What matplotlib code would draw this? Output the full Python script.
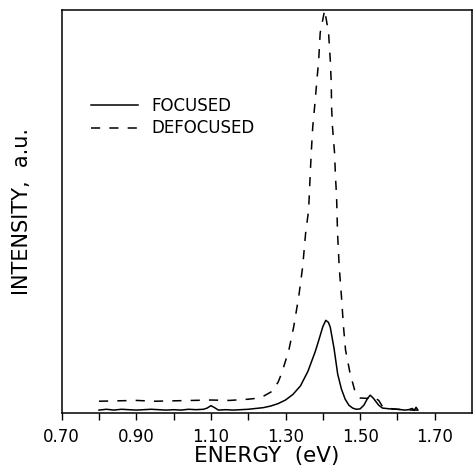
import matplotlib
matplotlib.use("Agg")
import matplotlib.pyplot as plt
from matplotlib.ticker import FixedLocator

plt.rcParams['font.family'] = ['DejaVu Sans']

# Focused spectrum (solid)
focused_energy = [0.80, 0.82, 0.84, 0.86, 0.88, 0.90, 0.92, 0.94, 0.96, 0.98,
                  1.00, 1.02, 1.04, 1.06, 1.08, 1.09, 1.10, 1.11, 1.12, 1.14,
                  1.16, 1.18, 1.20, 1.22, 1.24, 1.26, 1.28, 1.30, 1.32, 1.34,
                  1.36, 1.38, 1.39, 1.40, 1.408, 1.415, 1.42, 1.43, 1.44, 1.45,
                  1.46, 1.47, 1.48, 1.49, 1.50, 1.51, 1.52, 1.527, 1.535, 1.55,
                  1.56, 1.58, 1.60, 1.62, 1.63, 1.64, 1.645, 1.65, 1.655]
focused_intensity = [0.006, 0.008, 0.006, 0.008, 0.007, 0.006, 0.007, 0.008, 0.007, 0.006,
                     0.007, 0.006, 0.008, 0.007, 0.008, 0.011, 0.017, 0.012, 0.006, 0.007,
                     0.006, 0.007, 0.008, 0.010, 0.012, 0.016, 0.022, 0.031, 0.045, 0.066,
                     0.102, 0.152, 0.182, 0.213, 0.229, 0.224, 0.212, 0.160, 0.095, 0.058,
                     0.033, 0.018, 0.011, 0.008, 0.009, 0.018, 0.035, 0.043, 0.036, 0.018,
                     0.011, 0.009, 0.008, 0.006, 0.007, 0.010, 0.005, 0.013, 0.006]

# Defocused spectrum (dashed)
defocused_energy = [0.80, 0.85, 0.90, 0.95, 1.00, 1.05, 1.10, 1.15, 1.20, 1.22,
                    1.24, 1.263, 1.28, 1.29, 1.309, 1.322, 1.3355, 1.346, 1.354, 1.362,
                    1.366, 1.369, 1.373, 1.378, 1.3835, 1.389, 1.393, 1.405, 1.4155, 1.42,
                    1.4227, 1.4235, 1.426, 1.4315, 1.434, 1.437, 1.4395, 1.444, 1.450, 1.4555,
                    1.461, 1.473, 1.4867, 1.50, 1.52, 1.53, 1.54, 1.55, 1.56, 1.58, 1.60,
                    1.62, 1.64, 1.655]
defocused_intensity = [0.028, 0.029, 0.030, 0.028, 0.029, 0.030, 0.031, 0.030, 0.033, 0.035,
                       0.040, 0.052, 0.075, 0.098, 0.155, 0.213, 0.288, 0.362, 0.446, 0.503,
                       0.586, 0.645, 0.709, 0.759, 0.818, 0.876, 0.943, 1.000, 0.943, 0.876,
                       0.818, 0.759, 0.709, 0.645, 0.586, 0.535, 0.446, 0.362, 0.288, 0.213,
                       0.155, 0.098, 0.051, 0.036, 0.035, 0.040, 0.036, 0.030, 0.015, 0.010, 0.008,
                       0.007, 0.006, 0.006]

xtick_values = [0.70, 0.90, 1.10, 1.30, 1.50, 1.70]
xtick_labels = ["0.70", "0.90", "1.10", "1.30", "1.50", "1.70"]
xminor_values = [0.80, 1.00, 1.20, 1.40, 1.60]

fig = plt.figure(figsize=(4.75, 4.67), dpi=100)
ax = fig.add_axes([61.7 / 475, 54.5 / 467, (472 - 61.7) / 475, (412.5 - 10) / 467])

ax.plot(focused_energy, focused_intensity, color='black', lw=1.1, label='FOCUSED')
ax.plot(defocused_energy, defocused_intensity, color='black', lw=1.1,
        linestyle=(0, (6, 6)), label='DEFOCUSED')

ax.set_xlim(0.70, 1.80)
ax.set_ylim(0, 1.0)
ax.xaxis.set_major_locator(FixedLocator(xtick_values))
ax.set_xticklabels(xtick_labels)
ax.xaxis.set_minor_locator(FixedLocator(xminor_values))
ax.tick_params(axis='x', which='both', direction='out', length=5, width=1.0,
               labelsize=12, pad=6)
ax.set_yticks([])
for s in ax.spines.values():
    s.set_linewidth(1.1)

ax.set_xlabel("ENERGY  (eV)", fontsize=15.5)
ax.xaxis.set_label_coords(0.5, -0.082)
ax.set_ylabel("INTENSITY,  a.u.", fontsize=15)
ax.yaxis.set_label_coords(-0.072, 0.5)

leg = ax.legend(loc='upper left', bbox_to_anchor=(0.055, 0.80), frameon=False,
                fontsize=12, handlelength=2.8, handletextpad=0.8, labelspacing=0.25,
                borderaxespad=0)

fig.savefig("out.png", dpi=100)
